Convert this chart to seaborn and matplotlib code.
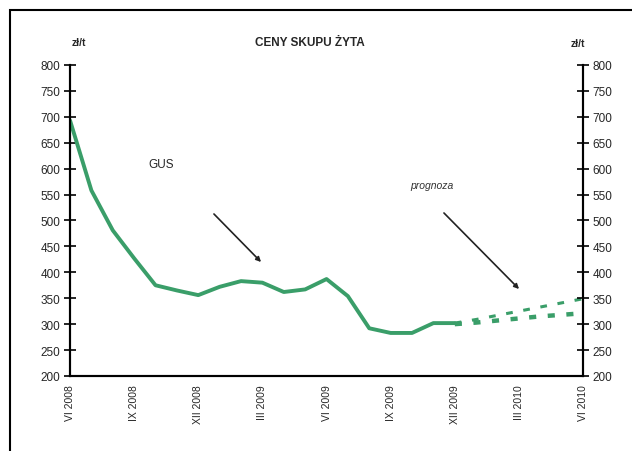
import numpy as np
import pandas as pd
import matplotlib
matplotlib.use("Agg")
import matplotlib.pyplot as plt
from matplotlib.patches import Rectangle, FancyArrowPatch
import seaborn as sns

# Data (months counted from VI 2008)
months = list(range(0, 19))
prices = [693, 558, 481, 427, 375, 365, 356, 372, 383, 380, 362, 367, 387, 354, 292, 283, 283, 302, 302]
fc_months = [18, 19, 20, 21, 22, 23, 24]
fc_upper = [302, 309, 317, 325, 333, 341, 349]
fc_lower = [300, 303, 307, 311, 315, 318, 321]
tick_labels = ["VI 2008", "IX 2008", "XII 2008", "III 2009", "VI 2009",
               "IX 2009", "XII 2009", "III 2010", "VI 2010"]
y_ticks = list(range(200, 801, 50))

green = "#3a9e69"

sns.set_style("white")
plt.rcParams['font.family'] = ['Liberation Sans', 'DejaVu Sans']

fig = plt.figure(figsize=(6.32, 4.52), dpi=100)
ax = fig.add_axes([0.1108, 0.166, 0.8117, 0.688])

df = pd.DataFrame({"month": months, "price": prices})
sns.lineplot(data=df, x="month", y="price", ax=ax, color=green, linewidth=2.8)

fc = pd.DataFrame({"month": fc_months, "upper": fc_upper, "lower": fc_lower})
sns.lineplot(data=fc, x="month", y="upper", ax=ax, color=green, linewidth=2.2,
             linestyle=(0, (2.2, 3.5)))
sns.lineplot(data=fc, x="month", y="lower", ax=ax, color=green, linewidth=3.2,
             linestyle=(0, (1.6, 2.6)))

ax.set_xlim(0, 24)
ax.set_ylim(200, 800)
ax.set_xticks(range(0, 25))
ax.set_xticklabels([tick_labels[i // 3] if i % 3 == 0 else "" for i in range(25)],
                   rotation=90, fontsize=7.5)
ax.set_yticks(y_ticks)
ax.set_yticklabels([str(v) for v in y_ticks], fontsize=8.5)
ax.tick_params(axis='both', direction='inout', length=8, width=1.2, color='black')
ax.tick_params(axis='y', pad=3)
ax.tick_params(axis='x', pad=2)
ax.set_xlabel("")
ax.set_ylabel("")

ax2 = ax.twinx()
ax2.set_ylim(200, 800)
ax2.set_yticks(y_ticks)
ax2.set_yticklabels([str(v) for v in y_ticks], fontsize=8.5)
ax2.tick_params(axis='y', direction='inout', length=8, width=1.2, color='black', pad=3)

for a in (ax, ax2):
    a.spines["top"].set_visible(False)
    for side in ("left", "right", "bottom"):
        a.spines[side].set_linewidth(1.5)
        a.spines[side].set_color("black")

# text
fig.text(0.49, 0.905, "CENY SKUPU ŻYTA", fontsize=8.5, fontweight='bold', ha='center', va='center')
fig.text(0.125, 0.905, "zł/t", fontsize=7.5, fontweight='bold', ha='center', va='center')
fig.text(0.915, 0.903, "zł/t", fontsize=7.5, fontweight='bold', ha='center', va='center')
fig.text(0.255, 0.635, "GUS", fontsize=8.5, ha='center', va='center')
fig.text(0.683, 0.588, "prognoza", fontsize=7.5, style='italic', ha='center', va='center', color='#333333')

fig.add_artist(FancyArrowPatch((212 / 632, 1 - 213 / 452), (263 / 632, 1 - 265 / 452),
                               transform=fig.transFigure, arrowstyle='-|>',
                               mutation_scale=7, lw=1.2, color='#222222'))
fig.add_artist(FancyArrowPatch((442 / 632, 1 - 212 / 452), (521 / 632, 1 - 292 / 452),
                               transform=fig.transFigure, arrowstyle='-|>',
                               mutation_scale=7, lw=1.2, color='#222222'))

fig.add_artist(Rectangle((10 / 632, -0.1), 1.2, 1 - 11 / 452 + 0.1, transform=fig.transFigure,
                         fill=False, lw=1.5, edgecolor='black'))

fig.savefig("out.png", dpi=100)
